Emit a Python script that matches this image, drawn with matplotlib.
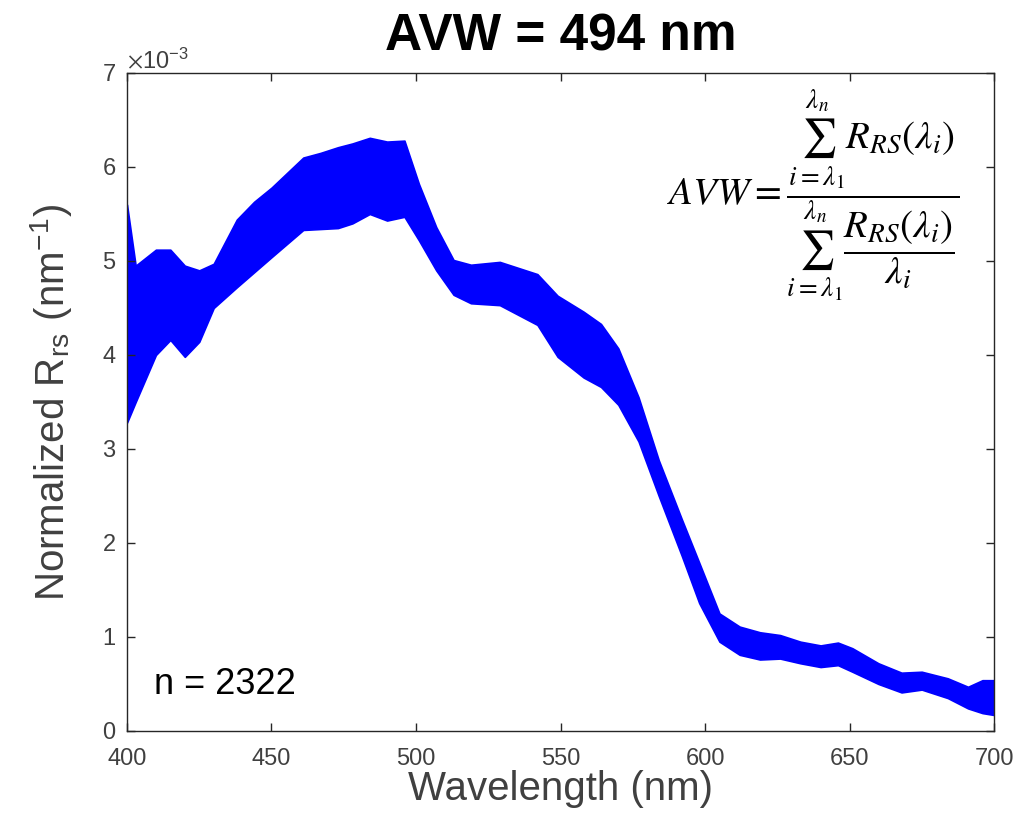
import numpy as np
import matplotlib
matplotlib.use("Agg")
import matplotlib.pyplot as plt
from matplotlib.ticker import ScalarFormatter

plt.rcParams['font.family'] = ['Liberation Sans', 'DejaVu Sans']
plt.rcParams['mathtext.fontset'] = 'stix'

# Wavelength grid (nm)
wavelength = [400, 403, 410, 415, 420, 425, 430, 438, 444, 450, 461, 467, 473, 478,
              484, 490, 496, 501, 507, 513, 519, 529, 542, 549, 558, 564, 570, 577,
              584, 592, 598, 605, 612, 619, 626, 633, 640, 646, 651, 660, 668, 675,
              684, 691, 696, 700]
# Upper envelope of normalized Rrs (x1e-3 nm^-1)
upper = [5.60, 4.95, 5.12, 5.12, 4.95, 4.90, 4.97, 5.44, 5.63, 5.78, 6.10, 6.15, 6.21, 6.25,
         6.31, 6.27, 6.28, 5.82, 5.36, 5.01, 4.96, 4.99, 4.86, 4.63, 4.46, 4.33, 4.07, 3.55,
         2.88, 2.25, 1.79, 1.25, 1.11, 1.05, 1.02, 0.95, 0.91, 0.94, 0.88, 0.72, 0.62, 0.63,
         0.56, 0.47, 0.54, 0.54]
# Lower envelope of normalized Rrs (x1e-3 nm^-1)
lower = [3.28, 3.50, 4.00, 4.16, 3.98, 4.14, 4.50, 4.72, 4.88, 5.04, 5.33, 5.34, 5.35, 5.40,
         5.50, 5.43, 5.47, 5.22, 4.90, 4.64, 4.55, 4.53, 4.32, 3.98, 3.76, 3.66, 3.47, 3.08,
         2.50, 1.86, 1.36, 0.95, 0.81, 0.76, 0.77, 0.72, 0.68, 0.70, 0.63, 0.50, 0.41, 0.44,
         0.35, 0.24, 0.19, 0.17]
n_spectra = 2322
avw = 494

x = np.array(wavelength, dtype=float)
up = np.array(upper) * 1e-3
lo = np.array(lower) * 1e-3

fig = plt.figure(figsize=(10.35, 8.33), dpi=100)
ax = fig.add_axes([0.1227, 0.1225, 0.8377, 0.7899])

blue = (0, 0, 1)
ax.fill_between(x, lo, up, color=blue, linewidth=1.2, edgecolor=blue)

ax.set_xlim(400, 700)
ax.set_ylim(0, 7e-3)
ax.set_xticks([400, 450, 500, 550, 600, 650, 700])
ax.set_yticks(np.arange(0, 8) * 1e-3)
fmt = ScalarFormatter(useMathText=True)
fmt.set_powerlimits((-2, 2))
ax.yaxis.set_major_formatter(fmt)
ax.yaxis.get_offset_text().set_fontsize(17)
ax.yaxis.get_offset_text().set_color('#404040')

gray = '#262626'
for s in ax.spines.values():
    s.set_color(gray)
    s.set_linewidth(1.0)
ax.tick_params(direction='in', top=True, right=True, length=6, width=1,
               labelsize=17, colors=gray, labelcolor='#404040')
ax.tick_params(axis='x', pad=12)
ax.tick_params(axis='y', pad=8)

ax.set_xlabel('Wavelength (nm)', fontsize=29, color='#404040', labelpad=0)
ax.set_ylabel(r'Normalized R$_{\mathregular{rs}}$ (nm$^{\mathregular{-1}}$)', fontsize=29,
              color='#404040', labelpad=20)
ax.set_title(f'AVW = {avw} nm', fontsize=37, fontweight='bold', pad=16)

ax.text(409.5, 0.49e-3, f'n = {n_spectra}', fontsize=26, color='black', va='center', ha='left')

formula = (r'$AVW = \dfrac{\sum_{i=\lambda_1}^{\lambda_n} R_{RS}\left(\lambda_i\right)}'
           r'{\sum_{i=\lambda_1}^{\lambda_n} \dfrac{R_{RS}\left(\lambda_i\right)}{\lambda_i}}$')
ax.text(637.5, 5.7e-3, formula, fontsize=28, ha='center', va='center')

fig.savefig('out.png', dpi=100)
